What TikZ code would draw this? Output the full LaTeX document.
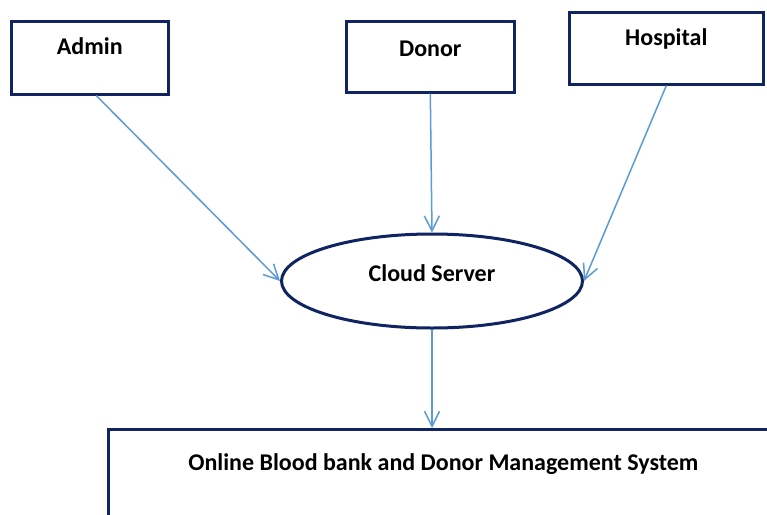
\documentclass[tikz,border=0pt]{standalone}
\usepackage{fontspec}
\setmainfont{Carlito}
\usetikzlibrary{arrows.meta,shapes.geometric}
\definecolor{navy}{HTML}{0F2461}
\definecolor{linkblue}{HTML}{5B9BD5}

\tikzset{
  box/.style={draw=navy, line width=2.6pt, inner sep=0pt, font=\bfseries\fontsize{24}{28}\selectfont},
  link/.style={draw=linkblue, line width=1.5pt, -{Straight Barb[length=15pt,width=15pt]}}
}

\begin{document}
\begin{tikzpicture}[x=1pt,y=-1pt]
    \clip (0,0) rectangle (767,514);
    \fill[white] (0,0) rectangle (767,514);
    \node (admin) [box, anchor=north west, minimum width=157pt, text height=33pt, text depth=40pt] at (10,20) {Admin};
    \node (donor) [box, anchor=north west, minimum width=168pt, text height=35pt, text depth=36pt] at (345,20) {Donor};
    \node (hospital) [box, anchor=north west, minimum width=194pt, text height=33pt, text depth=39pt] at (568,11) {Hospital};
    \node (server) [box, ellipse, line width=3pt, minimum width=301pt, minimum height=94pt, text height=10pt, text depth=10pt] at (432,281) {Cloud Server};
    \node (system) [box, anchor=north west, minimum width=670pt, text height=41pt, text depth=81pt] at (107,428) {Online Blood bank and Donor Management System};
    \draw[link] ([xshift=6.5pt]admin.south) -- (server.west);
    \draw[link] (donor.south) -- (server.north);
    \draw[link] (hospital.south) -- (server.east);
    \draw[link] (server.south) -- (server.south |- system.north);
\end{tikzpicture}
\end{document}
